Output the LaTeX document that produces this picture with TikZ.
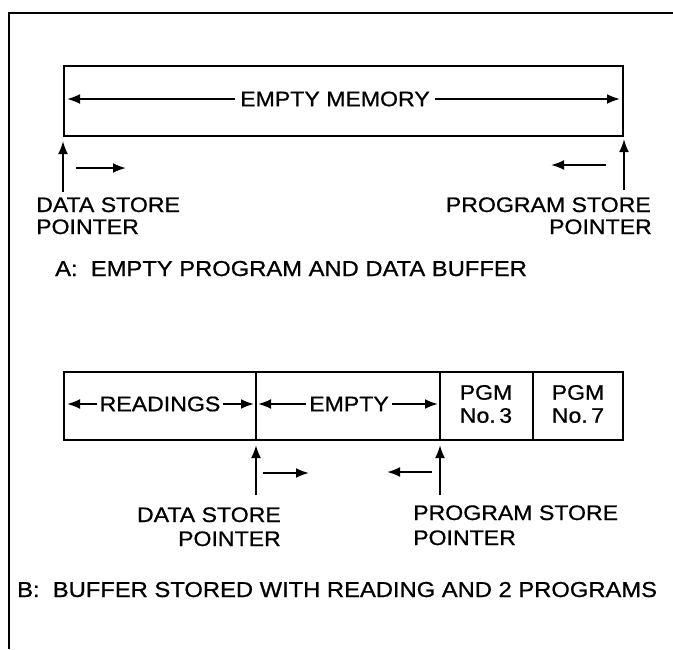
\documentclass[tikz,border=0pt]{standalone}
\usepackage{fontspec}
\setmainfont{Liberation Sans}[FakeStretch=1.1,FakeBold=0.8]
\usetikzlibrary{arrows.meta}
\begin{document}
\begin{tikzpicture}[x=1pt,y=-1pt,
  ln/.style={line width=2.1pt},
  arr/.style={line width=2pt,-{Latex[length=13pt,width=10pt]}},
  lbl/.style={inner sep=0pt,font=\fontsize{21}{23}\selectfont},
  captxt/.style={inner sep=0pt,font=\fontsize{21.6}{23}\selectfont},
  albl/.style={inner sep=5pt,font=\fontsize{21}{23}\selectfont}]
\useasboundingbox (0,0) rectangle (673,649);
% frame
\draw[ln] (9,649) -- (9,13) -- (673,13);
% ---------- A ----------
\draw[ln] (64,66) rectangle (623,136);
\node[albl] (em) at (335,99) {EMPTY MEMORY};
\coordinate (aL) at (67,99);
\coordinate (aR) at (620,99);
\draw[arr] (em.west) -- (aL);
\draw[arr] (em.east) -- (aR);
% pointers A
\coordinate (dA0) at (63,192);
\coordinate (dA1) at (63,141);
\draw[arr] (dA0) -- (dA1);
\coordinate (dAs0) at (76,168);
\coordinate (dAs1) at (126,168);
\draw[arr] (dAs0) -- (dAs1);
\coordinate (pA0) at (624,190);
\coordinate (pA1) at (624,139);
\draw[arr] (pA0) -- (pA1);
\coordinate (pAs0) at (606,165);
\coordinate (pAs1) at (551,165);
\draw[arr] (pAs0) -- (pAs1);
\node[lbl,anchor=base west] (dA) at (36,212) {DATA STORE};
\node[lbl,anchor=base west] (dAp) at (36,234) {POINTER};
\node[lbl,anchor=base east] (pA) at (651,212) {PROGRAM STORE};
\node[lbl,anchor=base east] (pAp) at (652,234) {POINTER};
\node[captxt,anchor=base west] (capA) at (55,276) {A:\ \ EMPTY PROGRAM AND DATA BUFFER};
% ---------- B ----------
\draw[ln] (64,372) rectangle (623,440);
\draw[ln] (256,372) -- (256,440);
\draw[ln] (440,372) -- (440,440);
\draw[ln] (533,372) -- (533,440);
\node[albl,inner sep=2pt] (rd) at (160,404) {READINGS};
\coordinate (bL) at (67,404);
\coordinate (b1) at (254,404);
\draw[arr] (rd.west) -- (bL);
\draw[arr] (rd.east) -- (b1);
\node[albl,inner sep=3pt] (emp) at (349,404) {EMPTY};
\coordinate (b2) at (258,404);
\coordinate (b3) at (438,404);
\draw[arr] (emp.west) -- (b2);
\draw[arr] (emp.east) -- (b3);
\node[lbl,align=center] (p3) at (486,404) {PGM\\No.\,3};
\node[lbl,align=center] (p7) at (578,404) {PGM\\No.\,7};
% pointers B
\coordinate (dB0) at (256,495);
\coordinate (dB1) at (256,445);
\draw[arr] (dB0) -- (dB1);
\coordinate (dBs0) at (263,473);
\coordinate (dBs1) at (309,473);
\draw[arr] (dBs0) -- (dBs1);
\coordinate (pB0) at (440,495);
\coordinate (pB1) at (440,445);
\draw[arr] (pB0) -- (pB1);
\coordinate (pBs0) at (432,472);
\coordinate (pBs1) at (387,472);
\draw[arr] (pBs0) -- (pBs1);
\node[lbl,anchor=base east] (dB) at (281,522) {DATA STORE};
\node[lbl,anchor=base east] (dBp) at (281,546) {POINTER};
\node[lbl,anchor=base west] (pB) at (413,520) {PROGRAM STORE};
\node[lbl,anchor=base west] (pBp) at (413,545) {POINTER};
\node[captxt,anchor=base west] (capB) at (17,597) {B:\ \ BUFFER STORED WITH READING AND 2 PROGRAMS};
\end{tikzpicture}
\end{document}
